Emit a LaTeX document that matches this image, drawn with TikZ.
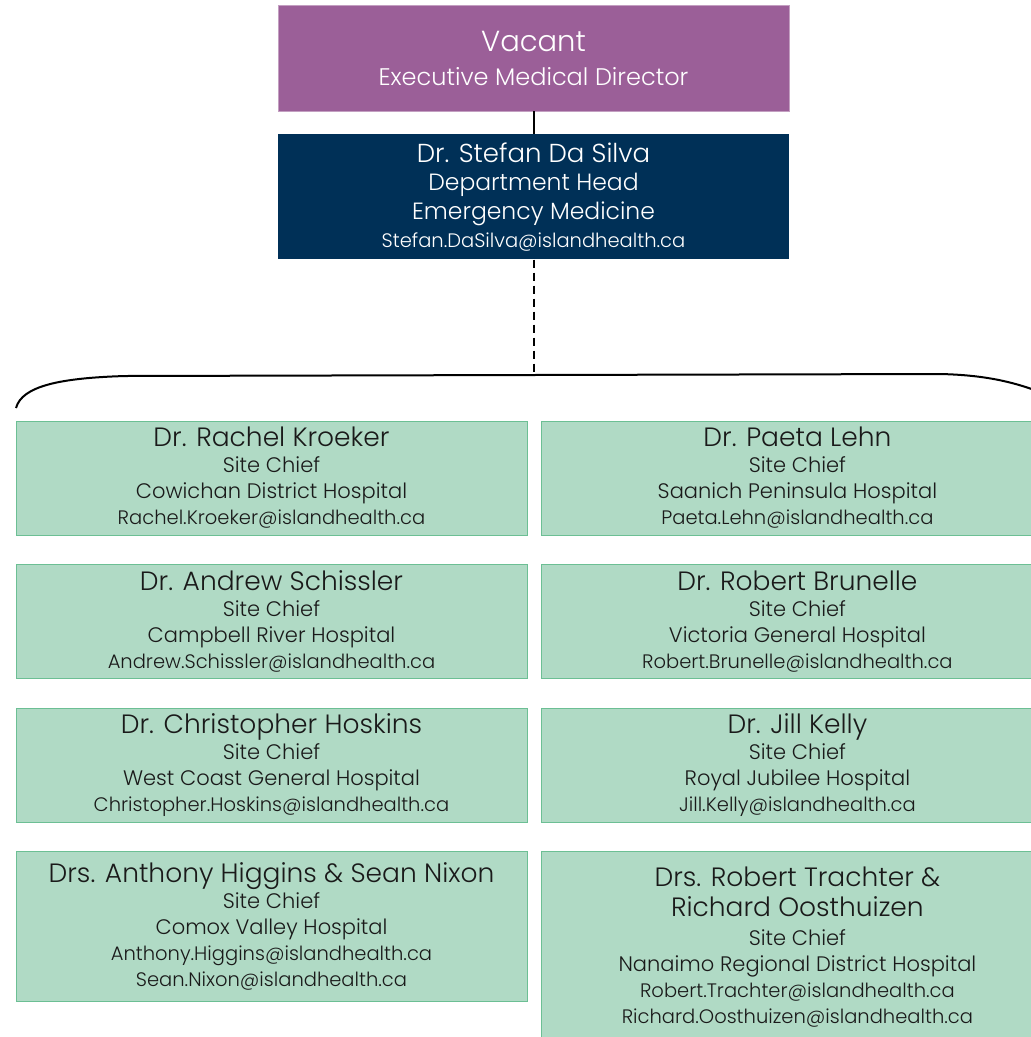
\documentclass[tikz,border=0pt]{standalone}
\usepackage{fontspec}
\setmainfont{Poppins Light}
\usepackage{tikz}
\usetikzlibrary{positioning}

\definecolor{vacantpurple}{HTML}{9B5F98}
\definecolor{headnavy}{HTML}{003057}
\definecolor{chieffill}{HTML}{B0DAC5}
\definecolor{chiefdraw}{HTML}{6CBF94}
\definecolor{chieftext}{HTML}{1A1A1A}

\newcommand{\bigname}{\fontsize{26.5}{26}\selectfont}
\newcommand{\mailtext}{\fontsize{19.5}{26}\selectfont}

\begin{document}
\begin{tikzpicture}[%
    x=1pt, y=-1pt,
    node distance=29pt,
    vacantnode/.style={rectangle, align=center, fill=vacantpurple, draw=vacantpurple!60!white, text=white, minimum width=511pt, minimum height=106pt, inner sep=0pt, font=\fontsize{24}{34}\selectfont},
    headnode/.style={rectangle, align=center, fill=headnavy, text=white, minimum width=511pt, minimum height=125pt, inner sep=0pt, font=\fontsize{23.5}{28.5}\selectfont},
    chiefnode/.style={rectangle, align=center, fill=chieffill, draw=chiefdraw, thin, text=chieftext, minimum width=511pt, minimum height=114pt, inner sep=0pt, font=\fontsize{21}{26}\selectfont},
    link/.style={line width=2pt}
]
\useasboundingbox (0,0) rectangle (1031,1037);

% top nodes
\node[vacantnode]   (vacant) at (533.5,58) {{\fontsize{29}{34}\selectfont Vacant}\\Executive Medical Director};

\node[headnode]     (depthead) [below=23pt of vacant] {{\fontsize{26}{28}\selectfont Dr. Stefan Da Silva}\\Department Head\\Emergency Medicine\\{\fontsize{19.5}{28}\selectfont Stefan.DaSilva@islandhealth.ca}};

% brace
\coordinate (bracemid) at (533.5,375);
\draw[line width=2pt] (16,408) .. controls (22,386) and (60,378) .. (125,376) -- (940,374) .. controls (985,375) and (1015,382) .. (1045,394);

% left column
\node[chiefnode]    (kroeker) at (271.5,478) {{\bigname Dr. Rachel Kroeker}\\Site Chief\\Cowichan District Hospital\\\mailtext Rachel.Kroeker@islandhealth.ca};

\node[chiefnode]    (schissler) [below=of kroeker] {{\bigname Dr. Andrew Schissler}\\Site Chief\\Campbell River Hospital\\\mailtext Andrew.Schissler@islandhealth.ca};

\node[chiefnode]    (hoskins) [below=of schissler] {{\bigname Dr. Christopher Hoskins}\\Site Chief\\West Coast General Hospital\\\mailtext Christopher.Hoskins@islandhealth.ca};

\node[chiefnode, minimum height=150pt] (higgins) [below=of hoskins] {{\bigname Drs. Anthony Higgins \& Sean Nixon}\\Site Chief\\Comox Valley Hospital\\\mailtext Anthony.Higgins@islandhealth.ca\\\mailtext Sean.Nixon@islandhealth.ca};

% right column
\node[chiefnode, minimum width=512pt] (lehn) [right=14pt of kroeker] {{\bigname Dr. Paeta Lehn}\\Site Chief\\Saanich Peninsula Hospital\\\mailtext Paeta.Lehn@islandhealth.ca};

\node[chiefnode, minimum width=512pt] (brunelle) [below=of lehn] {{\bigname Dr. Robert Brunelle}\\Site Chief\\Victoria General Hospital\\\mailtext Robert.Brunelle@islandhealth.ca};

\node[chiefnode, minimum width=512pt] (kelly) [below=of brunelle] {{\bigname Dr. Jill Kelly}\\Site Chief\\Royal Jubilee Hospital\\\mailtext Jill.Kelly@islandhealth.ca};

\node[chiefnode, minimum width=512pt, minimum height=192pt] (trachter) [below=of kelly] {{\bigname Drs. Robert Trachter \&}\\[4pt]{\bigname Richard Oosthuizen}\\[3pt]Site Chief\\Nanaimo Regional District Hospital\\\mailtext Robert.Trachter@islandhealth.ca\\\mailtext Richard.Oosthuizen@islandhealth.ca};

% lines
\draw[link] (vacant.south) -- (depthead.north);
\draw[link, dash pattern=on 8pt off 5pt] (depthead.south) -- (bracemid);

\end{tikzpicture}
\end{document}
